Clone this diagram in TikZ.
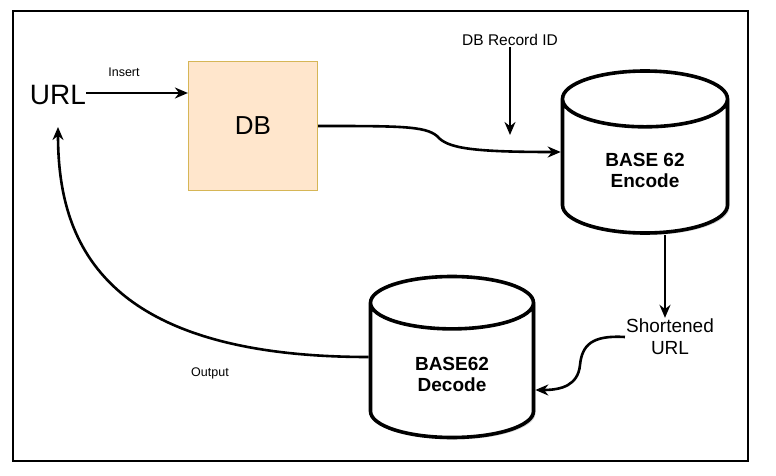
\documentclass[tikz,border=0pt]{standalone}
\usepackage{fontspec}
\setmainfont{Liberation Sans}
\usetikzlibrary{arrows.meta,shapes.geometric,shadows}

\definecolor{dbfill}{HTML}{FFE6CC}
\definecolor{dbline}{HTML}{D6B656}

\tikzstyle{flow}=[-{Stealth[length=13pt,width=11pt]},line width=2.6pt]
\tikzstyle{dbbox}=[rectangle,draw=dbline,fill=dbfill,line width=1.2pt,minimum width=129pt,minimum height=129pt,font=\fontsize{26}{30}\selectfont]
\tikzstyle{coder}=[cylinder,shape border rotate=90,anchor=shape center,draw,line width=3.6pt,aspect=0.65,align=center,
  drop shadow={shadow xshift=2pt,shadow yshift=-2pt,opacity=0.35,fill=black!50},fill=white,
  font=\bfseries\fontsize{19}{21}\selectfont]
\tikzstyle{smalltext}=[inner sep=1pt,font=\fontsize{12.5}{14}\selectfont]

\begin{document}
\begin{tikzpicture}[x=1pt,y=-1pt]
\useasboundingbox (0,0) rectangle (776,476);
\draw[line width=2pt] (13,11) rectangle (748,461);
% input side
\node[inner sep=0pt,font=\fontsize{28}{30}\selectfont] (url) at (58,95) {URL};
\coordinate (urlin) at (58,127);
\node[dbbox] (db) at (253,126) {DB};
\node[smalltext] (insert) at (124,72) {Insert};
% encoder
\node[coder,minimum width=165pt,minimum height=162pt] (enc) at (645,152) {BASE 62\\Encode};
\node[inner sep=1pt,font=\fontsize{15.5}{18}\selectfont] (recid) at (510,40) {DB Record ID};
\coordinate (recidend) at (510,135);
% shortened url and decoder
\node[inner sep=1pt,align=center,font=\fontsize{19}{22}\selectfont] (short) at (670,337) {Shortened\\URL};
\node[coder,minimum width=163pt,minimum height=161pt] (dec) at (452,357) {BASE62\\Decode};
\node[smalltext] (output) at (210,373) {Output};
% connectors
\draw[flow] (url.east |- 0,93) -- (db.west |- 0,93);
\draw[flow] (db.east) .. controls (400,126) and (425,126) .. (437,136)
    .. controls (447,148) and (470,152) .. (enc.shape center -| enc.west);
\draw[flow] (recid.south) -- (recidend);
\draw[flow] ([xshift=-5pt]short.north |- enc.south) -- ([xshift=-5pt]short.north);
\draw[flow] (short.west) .. controls (592,335) and (582,345) .. (580,365)
    .. controls (578,385) and (562,390) .. ([yshift=-33pt]dec.shape center -| dec.east);
\draw[flow] (dec.shape center -| dec.west) .. controls (100,357) and (58,240) .. (urlin);
\end{tikzpicture}
\end{document}
